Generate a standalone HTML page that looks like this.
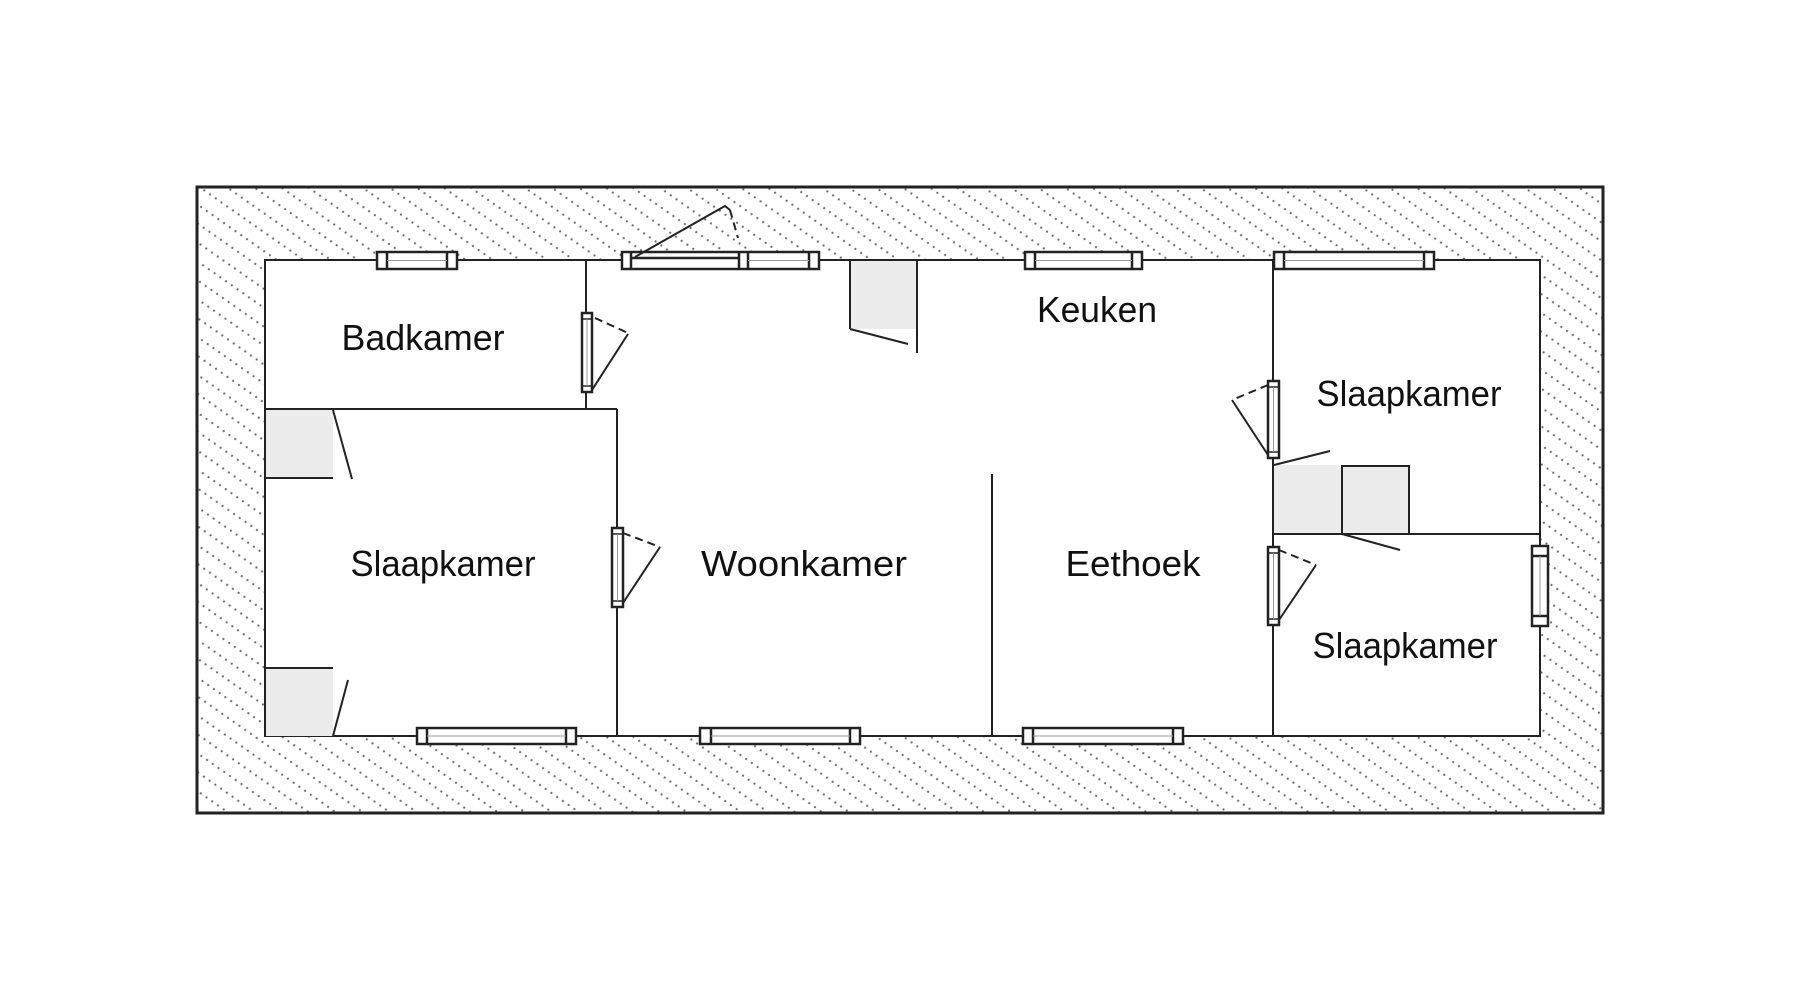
<!DOCTYPE html>
<html>
<head>
<meta charset="utf-8">
<style>
html,body{margin:0;padding:0;background:#fff;}
svg{display:block;}
text{font-family:"Liberation Sans",sans-serif;font-size:36px;fill:#111;}
</style>
</head>
<body>
<svg width="1800" height="1000" viewBox="0 0 1800 1000" xmlns="http://www.w3.org/2000/svg">
<defs>
<pattern id="h" width="7" height="15.5" patternUnits="userSpaceOnUse" patternTransform="rotate(35)">
<circle cx="3.5" cy="7.75" r="1.1" fill="#6a6a6a"/>
</pattern>
</defs>
<rect x="0" y="0" width="1800" height="1000" fill="#fff"/>
<!-- outer hatched wall -->
<rect x="197" y="187" width="1406" height="626" fill="url(#h)" stroke="#222" stroke-width="3"/>
<!-- inner area -->
<rect x="265" y="260" width="1275" height="476" fill="#fff" stroke="#222" stroke-width="2"/>

<!-- grey fills -->
<g fill="#ececec">
<rect x="266" y="410" width="67" height="68"/>
<rect x="266" y="668" width="67" height="68"/>
<rect x="851" y="261" width="66" height="68"/>
<rect x="1274" y="465" width="68" height="69"/>
<rect x="1342" y="466" width="67" height="68"/>
</g>

<g stroke="#222" stroke-width="2" fill="none">
<!-- walls -->
<line x1="586" y1="260" x2="586" y2="409"/>
<line x1="265" y1="409" x2="617" y2="409"/>
<line x1="617" y1="409" x2="617" y2="736"/>
<line x1="992" y1="474" x2="992" y2="736"/>
<line x1="1273" y1="260" x2="1273" y2="736"/>
<line x1="1273" y1="534" x2="1540" y2="534"/>
<!-- kitchen cabinet -->
<line x1="850" y1="260" x2="850" y2="329"/>
<line x1="850" y1="329" x2="908" y2="344"/>
<line x1="917" y1="260" x2="917" y2="353"/>
<!-- left closets -->
<line x1="265" y1="478" x2="333" y2="478"/>
<line x1="333" y1="410" x2="352" y2="479"/>
<line x1="265" y1="668" x2="333" y2="668"/>
<line x1="348" y1="680" x2="333" y2="736"/>
<!-- right closets -->
<polyline points="1342,534 1342,466 1409,466 1409,534"/>
<line x1="1274" y1="465" x2="1330" y2="451"/>
<line x1="1342" y1="534" x2="1400" y2="550"/>
</g>

<!-- windows -->
<g stroke="#222" stroke-width="2.5" fill="#fff">
<rect x="377" y="252" width="80" height="17"/>
<rect x="622" y="252" width="197" height="17"/>
<rect x="1025" y="252" width="117" height="17"/>
<rect x="1274" y="252" width="160" height="17"/>
<rect x="417" y="728" width="159" height="16"/>
<rect x="700" y="728" width="160" height="16"/>
<rect x="1023" y="728" width="160" height="16"/>
<rect x="1532" y="546" width="16" height="80"/>
<!-- door frames -->
<rect x="582" y="313" width="10" height="79"/>
<rect x="612" y="528" width="11" height="79"/>
<rect x="1268" y="381" width="11" height="77"/>
<rect x="1268" y="547" width="11" height="78"/>
</g>
<g stroke="#222" stroke-width="2.5">
<line x1="387" y1="252" x2="387" y2="269"/><line x1="447" y1="252" x2="447" y2="269"/>
<line x1="631" y1="252" x2="631" y2="269"/><line x1="739" y1="252" x2="739" y2="269"/><line x1="748" y1="252" x2="748" y2="269"/><line x1="809" y1="252" x2="809" y2="269"/>
<line x1="1035" y1="252" x2="1035" y2="269"/><line x1="1132" y1="252" x2="1132" y2="269"/>
<line x1="1284" y1="252" x2="1284" y2="269"/><line x1="1424" y1="252" x2="1424" y2="269"/>
<line x1="427" y1="728" x2="427" y2="744"/><line x1="566" y1="728" x2="566" y2="744"/>
<line x1="711" y1="728" x2="711" y2="744"/><line x1="850" y1="728" x2="850" y2="744"/>
<line x1="1033" y1="728" x2="1033" y2="744"/><line x1="1173" y1="728" x2="1173" y2="744"/>
<line x1="1532" y1="556" x2="1548" y2="556"/><line x1="1532" y1="616" x2="1548" y2="616"/>
<!-- front door leaf -->
<line x1="631" y1="258" x2="739" y2="258"/>
</g>
<g stroke="#222" stroke-width="1.5">
<line x1="582" y1="319" x2="592" y2="319"/><line x1="582" y1="386" x2="592" y2="386"/>
<line x1="612" y1="534" x2="623" y2="534"/><line x1="612" y1="601" x2="623" y2="601"/>
<line x1="1268" y1="387" x2="1279" y2="387"/><line x1="1268" y1="452" x2="1279" y2="452"/>
<line x1="1268" y1="553" x2="1279" y2="553"/><line x1="1268" y1="619" x2="1279" y2="619"/>
</g>
<!-- thin glass lines -->
<g stroke="#999" stroke-width="1">
<line x1="387" y1="260.5" x2="447" y2="260.5"/>
<line x1="748" y1="260.5" x2="809" y2="260.5"/>
<line x1="1035" y1="260.5" x2="1132" y2="260.5"/>
<line x1="1284" y1="260.5" x2="1424" y2="260.5"/>
<line x1="427" y1="736" x2="566" y2="736"/>
<line x1="711" y1="736" x2="850" y2="736"/>
<line x1="1033" y1="736" x2="1173" y2="736"/>
<line x1="1540" y1="556" x2="1540" y2="616"/>
<line x1="587" y1="319" x2="587" y2="386"/>
<line x1="617.5" y1="534" x2="617.5" y2="601"/>
<line x1="1273.5" y1="387" x2="1273.5" y2="452"/>
<line x1="1273.5" y1="553" x2="1273.5" y2="619"/>
</g>

<!-- door swings -->
<g stroke="#222" stroke-width="2" fill="none">
<line x1="592" y1="390" x2="628" y2="334"/>
<line x1="623" y1="603" x2="660" y2="547"/>
<line x1="1268" y1="455" x2="1232" y2="400"/>
<line x1="1279" y1="620" x2="1316" y2="565"/>
<polyline points="635,257 725,206 730,210"/>
</g>
<g stroke="#222" stroke-width="2" fill="none" stroke-dasharray="8,5">
<line x1="595" y1="318" x2="628" y2="333"/>
<line x1="623" y1="533" x2="660" y2="547"/>
<line x1="1268" y1="385" x2="1232" y2="400"/>
<line x1="1279" y1="550" x2="1316" y2="565"/>
<line x1="730" y1="210" x2="738" y2="238"/>
</g>

<!-- labels -->
<text x="423" y="350" text-anchor="middle" textLength="163" lengthAdjust="spacingAndGlyphs">Badkamer</text>
<text x="1097" y="322" text-anchor="middle" textLength="120" lengthAdjust="spacingAndGlyphs">Keuken</text>
<text x="1409" y="406" text-anchor="middle" textLength="185" lengthAdjust="spacingAndGlyphs">Slaapkamer</text>
<text x="443" y="576" text-anchor="middle" textLength="185" lengthAdjust="spacingAndGlyphs">Slaapkamer</text>
<text x="804" y="576" text-anchor="middle" textLength="206" lengthAdjust="spacingAndGlyphs">Woonkamer</text>
<text x="1133" y="576" text-anchor="middle" textLength="135" lengthAdjust="spacingAndGlyphs">Eethoek</text>
<text x="1405" y="658" text-anchor="middle" textLength="185" lengthAdjust="spacingAndGlyphs">Slaapkamer</text>
</svg>
</body>
</html>
